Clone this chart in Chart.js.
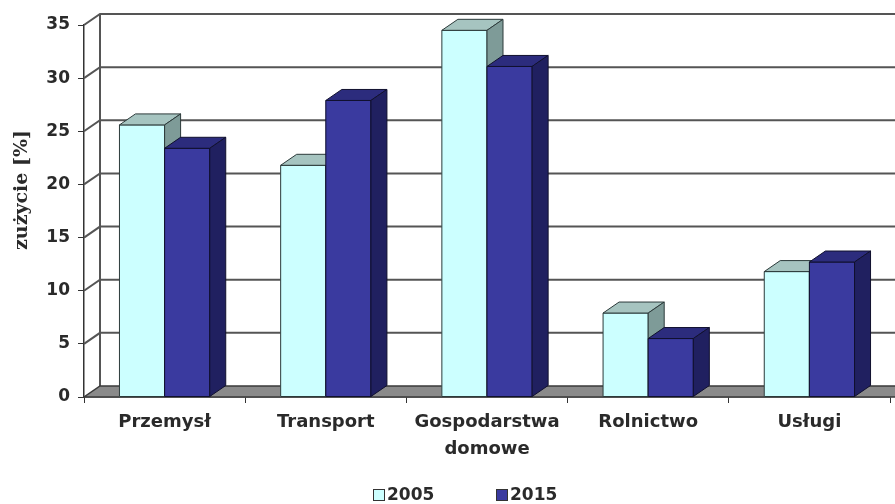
<!DOCTYPE html>
<html>
<head>
<meta charset="utf-8">
<script src="https://cdn.jsdelivr.net/npm/chart.js@4"></script>
<style>
  html, body { margin: 0; background: #fff; }
  #wrap { width: 895px; height: 504px; position: relative; }
</style>
</head>
<body>
<div id="wrap"><canvas id="chart"></canvas></div>
<script>
// data
const categories = ['Przemysł', 'Transport', ['Gospodarstwa', 'domowe'], 'Rolnictwo', 'Usługi'];
const years = ['2005', '2015'];
const values2005 = [25.6, 21.8, 34.5, 7.9, 11.8];
const values2015 = [23.4, 27.9, 31.1, 5.5, 12.7];
const yMin = 0, yMax = 35, yStep = 5;
const yTitle = 'zużycie [%]';

const faces = [
  {front: '#ccffff', top: '#a6c4c0', side: '#7e9b98', edge: '#2c3a3a'},
  {front: '#3a3a9f', top: '#2c2c7d', side: '#202060', edge: '#10102e'}
];
const DX = 16, DY = 11;
const textColor = '#2a2a2a';
const sansBold = {family: '"DejaVu Sans", Arial, sans-serif', weight: 'bold', size: 17};

function poly(ctx, pts, fill, stroke) {
  ctx.beginPath();
  ctx.moveTo(pts[0][0], pts[0][1]);
  for (let i = 1; i < pts.length; i++) ctx.lineTo(pts[i][0], pts[i][1]);
  ctx.closePath();
  if (fill) { ctx.fillStyle = fill; ctx.fill(); }
  if (stroke) { ctx.strokeStyle = stroke; ctx.stroke(); }
}

function drawBox(ctx, el, c) {
  const {x, y, base, width} = el.getProps(['x', 'y', 'base', 'width'], true);
  const l = x - width / 2, r = x + width / 2;
  ctx.lineWidth = 1;
  poly(ctx, [[l, y], [r, y], [r, base], [l, base]], c.front, c.edge);
  poly(ctx, [[l, y], [r, y], [r + DX, y - DY], [l + DX, y - DY]], c.top, c.edge);
  poly(ctx, [[r, y], [r + DX, y - DY], [r + DX, base - DY], [r, base]], c.side, c.edge);
}

const box3d = {
  id: 'box3d',
  beforeDatasetsDraw(chart) {
    const {ctx, chartArea: a, scales: {y}} = chart;
    ctx.save();
    // back and left walls
    ctx.lineWidth = 2;
    ctx.strokeStyle = '#555';
    y.ticks.forEach(t => {
      if (t.value === yMin) return;
      const py = y.getPixelForValue(t.value);
      ctx.beginPath();
      ctx.moveTo(a.left, py);
      ctx.lineTo(a.left + DX, py - DY);
      ctx.lineTo(a.right + DX, py - DY);
      ctx.stroke();
    });
    ctx.beginPath();
    ctx.moveTo(a.left + DX, a.top - DY);
    ctx.lineTo(a.left + DX, a.bottom - DY);
    ctx.stroke();
    // floor
    ctx.lineWidth = 1.5;
    poly(ctx, [[a.left, a.bottom], [a.right + DX, a.bottom], [a.right + DX, a.bottom - DY], [a.left + DX, a.bottom - DY]], '#8a8a8a', '#3a3a3a');
    ctx.restore();
  },
  afterDatasetsDraw(chart) {
    const {ctx} = chart;
    const metas = chart.data.datasets.map((d, i) => chart.getDatasetMeta(i));
    ctx.save();
    for (let i = 0; i < categories.length; i++) {
      metas.forEach((m, d) => drawBox(ctx, m.data[i], faces[d]));
    }
    ctx.restore();
  },
  afterDraw(chart) {
    const {ctx} = chart;
    ctx.save();
    // y title
    ctx.translate(22, 190);
    ctx.rotate(-Math.PI / 2);
    ctx.font = 'bold 19px "DejaVu Serif", "Liberation Serif", serif';
    ctx.fillStyle = textColor;
    ctx.textAlign = 'center';
    ctx.textBaseline = 'middle';
    ctx.fillText(yTitle, 0, 0);
    ctx.restore();
    // legend
    ctx.save();
    ctx.font = 'bold 17px "DejaVu Sans", Arial, sans-serif';
    ctx.textBaseline = 'middle';
    const legendX = [373, 496];
    years.forEach((yr, d) => {
      const bx = legendX[d];
      ctx.fillStyle = faces[d].front;
      ctx.fillRect(bx, 489, 12, 12);
      ctx.strokeStyle = '#333';
      ctx.lineWidth = 1;
      ctx.strokeRect(bx + 0.5, 489.5, 11, 11);
      ctx.fillStyle = textColor;
      ctx.fillText(yr, bx + 14, 496);
    });
    ctx.restore();
  }
};

new Chart(document.getElementById('chart'), {
  type: 'bar',
  data: {
    labels: categories,
    datasets: [
      {label: years[0], data: values2005, backgroundColor: faces[0].front, borderWidth: 0},
      {label: years[1], data: values2015, backgroundColor: faces[1].front, borderWidth: 0}
    ]
  },
  options: {
    responsive: true,
    maintainAspectRatio: false,
    animation: false,
    categoryPercentage: 0.56,
    barPercentage: 1,
    layout: {padding: {top: 25, right: 5, left: 0, bottom: 0}},
    plugins: {legend: {display: false}, tooltip: {enabled: false}},
    scales: {
      x: {
        grid: {offset: true, drawOnChartArea: false, tickLength: 6, color: '#333'},
        border: {color: '#333', width: 1.5},
        ticks: {font: {...sansBold, size: 18, lineHeight: 1.5}, color: textColor, padding: 6},
        afterFit(s) { s.height = 107; }
      },
      y: {
        min: yMin,
        max: yMax,
        ticks: {stepSize: yStep, font: sansBold, color: textColor, padding: 8},
        grid: {drawOnChartArea: false, tickLength: 6, color: '#333'},
        border: {color: '#333', width: 1.5},
        afterFit(s) { s.width = 84; }
      }
    }
  },
  plugins: [box3d]
});
</script>
</body>
</html>
